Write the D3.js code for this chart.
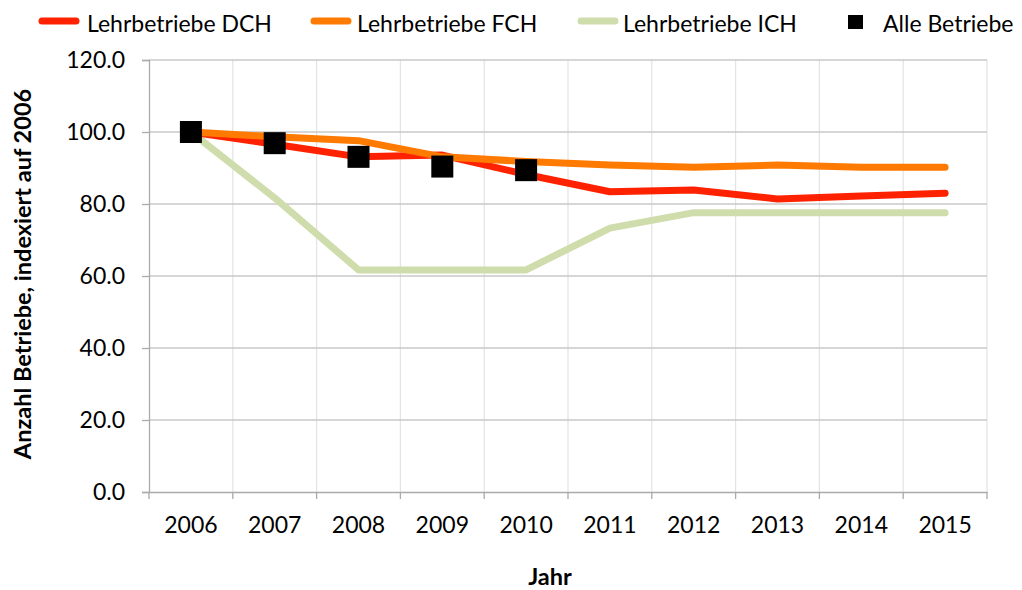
<!DOCTYPE html>
<html><head><meta charset="utf-8">
<script src="https://cdn.jsdelivr.net/npm/d3@7"></script>
<style>body{margin:0;background:#fff}svg{display:block}text{font-family:Lato,"Open Sans",sans-serif;fill:#000}</style>
</head><body><svg id="c" width="1022" height="590"></svg>
<script>
const years = ["2006","2007","2008","2009","2010","2011","2012","2013","2014","2015"];
const dch = [100,96.6,93.1,93.6,88.2,83.4,83.9,81.4,82.2,83.0];
const fch = [100,98.7,97.6,93.1,91.8,90.8,90.2,90.8,90.2,90.2];
const ich = [100,81.7,61.7,61.7,61.7,73.3,77.6,77.6,77.6,77.6];
const alle = [100,96.9,93.1,90.4,89.4];
const yTicks = [0,20,40,60,80,100,120];
const seriesNames = ["Lehrbetriebe DCH","Lehrbetriebe FCH","Lehrbetriebe ICH","Alle Betriebe"];

const FS = "23px";
const svg = d3.select("#c");
const L=149,R=987,T=60,B=492;
const x = d3.scaleBand().domain(years).range([L,R]);
const y = d3.scaleLinear().domain([0,120]).range([B,T]);
const cx = d => x(d)+x.bandwidth()/2;
const bounds = years.map(d=>x(d)).concat([R]);

// gridlines
svg.append("g").selectAll("line").data(bounds.slice(1)).join("line")
  .attr("x1",d=>d).attr("x2",d=>d).attr("y1",T).attr("y2",B)
  .attr("stroke","#e3e3e3").attr("stroke-width",1.2);
svg.append("g").selectAll("line").data(yTicks.slice(1)).join("line")
  .attr("x1",L).attr("x2",R).attr("y1",d=>y(d)).attr("y2",d=>y(d))
  .attr("stroke","#c8c8c8").attr("stroke-width",1.3);

// y axis
const ya = svg.append("g").attr("transform",`translate(${L},0)`)
  .call(d3.axisLeft(y).tickValues(yTicks).tickFormat(d3.format(".1f")).tickSize(7).tickPadding(17));
ya.select(".domain").attr("stroke","#aaa").attr("stroke-width",1.3);
ya.selectAll(".tick line").attr("stroke","#aaa").attr("stroke-width",1.3);
ya.selectAll(".tick text").style("font-size",FS).style("font-family","Lato, sans-serif");

// x axis
const xa = svg.append("g").attr("transform",`translate(0,${B})`)
  .call(d3.axisBottom(x).tickSize(0).tickPadding(25));
xa.select(".domain").attr("stroke","#aaa").attr("stroke-width",1.3);
xa.selectAll(".tick text").style("font-size",FS).style("font-family","Lato, sans-serif");
svg.append("g").selectAll("line").data(bounds).join("line")
  .attr("x1",d=>d).attr("x2",d=>d)
  .attr("y1",B).attr("y2",B+7).attr("stroke","#aaa").attr("stroke-width",1.3);

// lines
const line = d3.line().x((d,i)=>cx(years[i])).y(d=>y(d));
const colors = ["#ff2200","#ff7a00","#cfdcac","#000"];
[[ich,colors[2]],[dch,colors[0]],[fch,colors[1]]].forEach(([s,c])=>{
  svg.append("path").datum(s).attr("d",line).attr("fill","none").attr("stroke",c)
    .attr("stroke-width",7).attr("stroke-linecap","round").attr("stroke-linejoin","round");
});

const sq=22;
svg.append("g").selectAll("rect").data(alle).join("rect")
  .attr("x",(d,i)=>cx(years[i])-sq/2).attr("y",d=>y(d)-sq/2)
  .attr("width",sq).attr("height",sq).attr("fill","#000");

// axis titles
svg.append("text").attr("transform",`translate(31,274) rotate(-90)`).attr("text-anchor","middle")
  .style("font-size","23.5px").style("font-weight","bold").text("Anzahl Betriebe,  indexiert auf 2006");
svg.append("text").attr("x",550).attr("y",585).attr("text-anchor","middle")
  .style("font-size","23.5px").style("font-weight","bold").text("Jahr");

// legend
const legX = [38,310,577,848];
const legT = [87,357,623,883];
legX.forEach((px,i)=>{
  const g = svg.append("g");
  if(i<3) g.append("line").attr("x1",px+4).attr("x2",px+38).attr("y1",21).attr("y2",21)
    .attr("stroke",colors[i]).attr("stroke-width",7).attr("stroke-linecap","round");
  else g.append("rect").attr("x",px).attr("y",15).attr("width",15).attr("height",14).attr("fill","#000");
  g.append("text").attr("x",legT[i]).attr("y",31.5).style("font-size",FS).text(seriesNames[i]);
});
</script></body></html>
